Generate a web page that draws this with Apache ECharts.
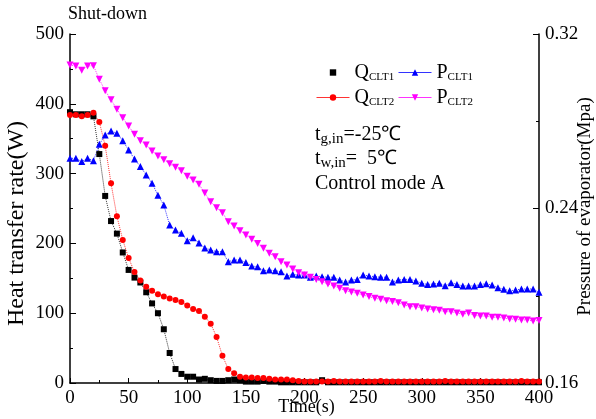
<!DOCTYPE html>
<html>
<head>
<meta charset="utf-8">
<script src="https://cdn.jsdelivr.net/npm/echarts@6/dist/echarts.min.js"></script>
<style>
html,body{margin:0;padding:0;background:#fff;overflow:hidden;}
#chart{width:596px;height:419px;}
</style>
</head>
<body>
<div id="chart"></div>
<script>
// Time (s)
const times = [0,5,10,15,20,25,30,35,40,45,50,55,60,65,70,75,80,85,90,95,
  100,105,110,115,120,125,130,135,140,145,150,155,160,165,170,175,180,185,190,195,
  200,205,210,215,220,225,230,235,240,245,250,255,260,265,270,275,280,285,290,295,
  300,305,310,315,320,325,330,335,340,345,350,355,360,365,370,375,380,385,390,395,400];

// Heat transfer rate (W)
const qCLT1 = [388,385,385,385,382,328,268,232,214,187,162,151,144,130,114,100,77,43,20,13,
  9,9,5,6,4,3,3,4,5,4,2,2,2,3,2,2,1,1,1,1,
  1,1,1,4,1,1,1,1,1,1,1,1,1,1,1,1,1,1,1,1,
  1,1,1,1,1,1,1,1,1,1,1,1,1,1,1,1,1,1,1,1,1];
const qCLT2 = [384,384,382,384,387,374,340,286,239,205,179,159,147,138,132,127,124,121,119,116,
  111,106,103,95,85,66,39,20,14,9,8,8,7,7,6,5,5,5,4,3,
  2,2,2,2,2,3,2,2,2,2,2,2,2,3,2,2,2,2,2,2,
  2,2,2,2,3,2,2,2,2,2,2,2,2,2,2,2,2,3,2,2,2];

// Pressure of evaporator (MPa)
const pCLT1 = [0.2630,0.2630,0.2615,0.2630,0.2619,0.2694,0.2737,0.2755,0.2745,0.2711,
  0.2668,0.2627,0.2592,0.2554,0.2516,0.2461,0.2416,0.2324,0.2301,0.2286,
  0.2252,0.2266,0.2242,0.2219,0.2210,0.2202,0.2202,0.2156,0.2164,0.2164,
  0.2152,0.2136,0.2133,0.2115,0.2118,0.2115,0.2110,0.2091,0.2098,0.2095,
  0.2095,0.2085,0.2091,0.2087,0.2085,0.2085,0.2072,0.2063,0.2072,0.2075,
  0.2095,0.2091,0.2087,0.2085,0.2085,0.2063,0.2072,0.2075,0.2075,0.2068,
  0.2057,0.2052,0.2054,0.2057,0.2046,0.2060,0.2052,0.2045,0.2045,0.2045,
  0.2052,0.2055,0.2049,0.2037,0.2030,0.2023,0.2026,0.2031,0.2031,0.2031,0.2016];
const pCLT2 = [0.3058,0.3053,0.3034,0.3053,0.3055,0.2992,0.2940,0.2899,0.2855,0.2816,
  0.2778,0.2740,0.2711,0.2691,0.2664,0.2641,0.2624,0.2605,0.2589,0.2573,
  0.2548,0.2531,0.2511,0.2471,0.2431,0.2404,0.2381,0.2339,0.2320,0.2298,
  0.2279,0.2259,0.2240,0.2218,0.2195,0.2179,0.2156,0.2141,0.2123,0.2106,
  0.2095,0.2085,0.2075,0.2064,0.2054,0.2045,0.2034,0.2023,0.2017,0.2011,
  0.2003,0.1996,0.1988,0.1984,0.1977,0.1974,0.1968,0.1958,0.1950,0.1950,
  0.1944,0.1939,0.1936,0.1933,0.1927,0.1927,0.1921,0.1915,0.1921,0.1910,
  0.1907,0.1907,0.1901,0.1901,0.1898,0.1893,0.1892,0.1889,0.1889,0.1884,0.1887];

const subLabels = {Q_CLT1:['Q','CLT1'],P_CLT1:['P','CLT1'],Q_CLT2:['Q','CLT2'],P_CLT2:['P','CLT2']};

const FONT = "'Liberation Serif','Times New Roman',serif";
const pair = (arr) => times.map((t,i)=>[t,arr[i]]);

const richLegend = {
  m:{fontFamily:FONT,fontSize:20,color:'#000',lineHeight:22},
  s:{fontFamily:FONT,fontSize:11,color:'#000',padding:[10,0,0,0],lineHeight:22}
};
function mkLegend(name,left,top,extra){
  return Object.assign({
    data:[name], left:left, top:top, orient:'horizontal',
    itemWidth:33, itemHeight:8, itemGap:4,
    padding:0,
    lineStyle:{type:'solid',width:1},
    formatter:(n)=>'{m|'+subLabels[n][0]+'}{s|'+subLabels[n][1]+'}',
    textStyle:{rich:richLegend,padding:[0,0,0,0]},
    selectedMode:false
  },extra||{});
}

const chart = echarts.init(document.getElementById('chart'),null,{renderer:'canvas',width:596,height:419});
const axisTextStyle = {fontFamily:FONT,fontSize:19,color:'#000'};
const annoRich = {
  m:{fontFamily:FONT,fontSize:20,fill:'#000',lineHeight:22},
  s:{fontFamily:FONT,fontSize:15,fill:'#000',padding:[9,0,0,0],lineHeight:22}
};
const option = {
  animation:false,
  backgroundColor:'#fff',
  grid:{left:70,right:57,top:34,bottom:36,containLabel:false,outerBoundsMode:'none'},
  legend:[
    mkLegend('Q_CLT1',316,62,{data:[{name:'Q_CLT1',lineStyle:{opacity:0}}]}),
    mkLegend('P_CLT1',398,62),
    mkLegend('Q_CLT2',316,87),
    mkLegend('P_CLT2',398,87)
  ],
  xAxis:{
    type:'value',min:0,max:400,interval:50,
    name:'Time(s)',nameLocation:'middle',nameGap:15,nameMoveOverlap:false,
    nameTextStyle:{fontFamily:FONT,fontSize:18,color:'#000',verticalAlign:'top',padding:[0,0,0,4]},
    axisLine:{show:true,lineStyle:{color:'#000',width:1.5}},
    axisTick:{show:true,inside:true,length:5,lineStyle:{color:'#000'}},
    minorTick:{show:true,splitNumber:2,length:3,lineStyle:{color:'#000'}},
    axisLabel:{...axisTextStyle,margin:6},
    splitLine:{show:false}
  },
  yAxis:[{
    type:'value',min:0,max:500,interval:100,position:'left',
    name:'Heat transfer rate(W)',nameLocation:'middle',nameGap:41,nameRotate:90,nameMoveOverlap:false,
    nameTextStyle:{fontFamily:FONT,fontSize:24,color:'#000',padding:[0,30,0,0]},
    axisLine:{show:true,lineStyle:{color:'#000',width:1.5}},
    axisTick:{show:true,inside:true,length:6,lineStyle:{color:'#000'}},
    minorTick:{show:true,splitNumber:2,length:3,lineStyle:{color:'#000'}},
    axisLabel:{...axisTextStyle,margin:6},
    splitLine:{show:false}
  },{
    type:'value',min:0.16,max:0.32,interval:0.08,position:'right',
    name:'Pressure of evaporator(Mpa)',nameLocation:'middle',nameGap:37,nameRotate:90,nameMoveOverlap:false,
    nameTextStyle:{fontFamily:FONT,fontSize:19,color:'#000',padding:[0,0,0,4]},
    axisLine:{show:true,lineStyle:{color:'#000',width:1.5}},
    axisTick:{show:true,inside:true,length:6,lineStyle:{color:'#000'}},
    minorTick:{show:true,splitNumber:2,length:3,lineStyle:{color:'#000'}},
    axisLabel:{...axisTextStyle,margin:6,formatter:(v)=>v.toFixed(2)},
    splitLine:{show:false}
  }],
  series:[
    {name:'Q_CLT1',type:'line',yAxisIndex:0,data:pair(qCLT1),
     symbol:'rect',symbolSize:6,
     itemStyle:{color:'#000'},lineStyle:{color:'#000',type:'dotted',width:1,opacity:0.8}},
    {name:'P_CLT1',type:'line',yAxisIndex:1,data:pair(pCLT1),
     symbol:'triangle',symbolSize:7,
     itemStyle:{color:'#0000ff'},lineStyle:{color:'#0000ff',type:'dotted',width:1,opacity:0.8}},
    {name:'Q_CLT2',type:'line',yAxisIndex:0,data:pair(qCLT2),
     symbol:'circle',symbolSize:6,
     itemStyle:{color:'#ff0000'},lineStyle:{color:'#ff0000',type:'dotted',width:1,opacity:0.8}},
    {name:'P_CLT2',type:'line',yAxisIndex:1,data:pair(pCLT2),
     symbol:'triangle',symbolRotate:180,symbolSize:7,
     itemStyle:{color:'#ff00ff'},lineStyle:{color:'#ff00ff',type:'dotted',width:1,opacity:0.8}}
  ],
  graphic:[
    {type:'text',left:68,top:5,style:{text:'Shut-down',font:'18px '+FONT,fill:'#000'}},
    {type:'text',left:315,top:123,style:{text:'{m|t}{s|g,in}{m|=-25℃}',rich:annoRich}},
    {type:'text',left:315,top:147,style:{text:'{m|t}{s|w,in}{m|=  5℃}',rich:annoRich}},
    {type:'text',left:315,top:174,style:{text:'Control mode A',font:'20px '+FONT,fill:'#000'}}
  ]
};
chart.setOption(option);
</script>
</body>
</html>
